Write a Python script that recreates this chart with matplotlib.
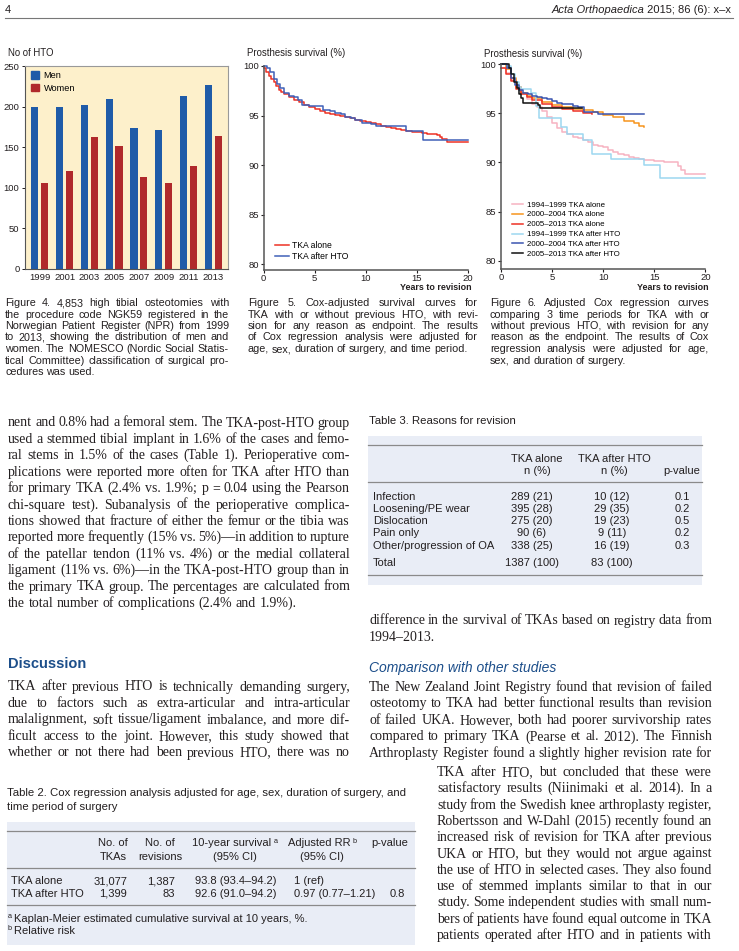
import numpy as np
import matplotlib
matplotlib.use("Agg")
import matplotlib.pyplot as plt
from matplotlib import font_manager
from matplotlib.patches import Patch, Rectangle

# ---- data: figure 4 (HTO per year) ----
years = ["1999", "2001", "2003", "2005", "2007", "2009", "2011", "2013"]
men = [199, 199, 202, 209, 174, 171, 213, 227]
women = [106, 121, 163, 151, 113, 106, 127, 164]

# ---- data: figure 5 (survival, TKA alone vs after HTO) ----
alone_t = [0, 0.25, 0.5, 0.75, 1, 1.25, 1.5, 1.75, 2, 2.5, 3, 3.5, 4, 4.5, 5, 5.5, 6, 6.5, 7, 7.5,
           8, 8.5, 9, 9.5, 10, 10.5, 11, 11.5, 12, 12.5, 13, 13.5, 14, 14.5, 15, 15.5, 16, 16.5,
           17, 17.3, 17.5, 18, 20]
alone_s = [99.8, 99.4, 99.0, 98.7, 98.35, 97.95, 97.6, 97.35, 97.15, 96.85, 96.6, 96.35, 96.1,
           95.9, 95.7, 95.5, 95.3, 95.2, 95.05, 94.95, 94.8, 94.7, 94.55, 94.45, 94.35, 94.25,
           94.1, 93.95, 93.85, 93.75, 93.65, 93.55, 93.4, 93.35, 93.3, 93.2, 93.15, 93.1, 93.05,
           92.8, 92.6, 92.3, 92.3]
hto_t = [0, 0.3, 0.6, 1, 1.3, 1.6, 2, 2.5, 3, 3.4, 3.8, 4.5, 5, 5.8, 6.5, 7, 7.6, 8, 8.6, 9.0,
         9.6, 10.5, 11, 12, 13, 14, 15.6, 20]
hto_s = [100, 99.8, 99.4, 98.7, 98.2, 97.8, 97.3, 97.0, 96.85, 96.6, 96.1, 96.0, 95.95, 95.6,
         95.45, 95.3, 95.15, 94.9, 94.7, 94.5, 94.2, 94.15, 93.95, 93.9, 93.9, 93.45, 92.5, 92.5]

# ---- data: figure 6 (survival by period) ----
p1_alone_t = [0, 0.5, 1, 1.5, 2, 2.5, 3, 3.5, 4, 4.5, 5, 5.5, 6, 6.5, 7, 7.5, 8, 8.5, 9, 9.5,
              10, 10.5, 11, 11.5, 12, 12.5, 13, 13.5, 14, 15, 16, 17, 17.3, 17.6, 18, 20]
p1_alone_s = [99.6, 99.1, 98.4, 97.7, 97.05, 96.5, 96.0, 95.6, 95.2, 94.6, 94.0, 93.5, 93.1,
              92.85, 92.6, 92.45, 92.3, 92.05, 91.8, 91.65, 91.55, 91.3, 91.1, 90.9, 90.75,
              90.6, 90.5, 90.4, 90.3, 90.2, 90.05, 90.0, 89.6, 89.2, 88.8, 88.8]
p2_alone_t = [0, 0.5, 1, 1.5, 2, 2.5, 3, 4, 5, 6, 7, 8, 9, 10, 11, 12, 13, 13.5, 14]
p2_alone_s = [100, 99.5, 98.6, 97.7, 97.1, 96.8, 96.55, 96.2, 95.85, 95.6, 95.45, 95.3, 95.1,
              94.85, 94.6, 94.25, 94.0, 93.7, 93.6]
p3_alone_t = [0, 0.5, 1, 1.5, 2, 2.5, 3, 4, 5, 6, 7, 8, 8.9]
p3_alone_s = [99.6, 99.0, 98.3, 97.5, 96.95, 96.65, 96.4, 96.0, 95.7, 95.45, 95.25, 95.0, 94.95]
p1_hto_t = [0, 0.6, 1.0, 1.4, 1.8, 2.0, 2.9, 3.4, 3.7, 5.9, 6.5, 8.05, 8.9, 10.8, 14.0, 15.6, 20]
p1_hto_s = [100, 99.8, 99.0, 98.2, 97.7, 97.45, 97.05, 95.8, 94.5, 93.6, 92.9, 92.3, 90.9,
            90.4, 89.75, 88.45, 88.45]
p2_hto_t = [0, 0.6, 1.0, 1.4, 1.8, 2.2, 2.6, 3.0, 3.5, 4.0, 4.5, 5.0, 5.5, 6.0, 7.0, 7.5, 8.1,
            9.5, 14]
p2_hto_s = [100, 99.6, 98.6, 97.9, 97.4, 97.1, 96.95, 96.8, 96.7, 96.55, 96.45, 96.3, 96.1,
            95.95, 95.75, 95.6, 95.1, 94.9, 94.9]
p3_hto_t = [0, 0.8, 1.0, 1.3, 1.6, 1.8, 2.0, 2.2, 3.6, 3.8, 7.9]
p3_hto_s = [100, 99.6, 99.0, 98.2, 97.6, 97.0, 96.6, 96.1, 95.85, 95.5, 95.5]
period_labels = ["1994\u20131999 TKA alone", "2000\u20132004 TKA alone", "2005\u20132013 TKA alone",
                 "1994\u20131999 TKA after HTO", "2000\u20132004 TKA after HTO",
                 "2005\u20132013 TKA after HTO"]

# ---- data: tables ----
t3_reasons = ["Infection", "Loosening/PE wear", "Dislocation", "Pain only", "Other/progression of OA"]
t3_alone = ["289 (21)", "395 (28)", "275 (20)", "90 (6)", "338 (25)"]
t3_hto = ["10 (12)", "29 (35)", "19 (23)", "9 (11)", "16 (19)"]
t3_p = ["0.1", "0.2", "0.5", "0.2", "0.3"]
t3_total = ["Total", "1387 (100)", "83 (100)"]

t2_groups = ["TKA alone", "TKA after HTO"]
t2_n = ["31,077", "1,399"]
t2_rev = ["1,387", "83"]
t2_surv = ["93.8 (93.4\u201394.2)", "92.6 (91.0\u201394.2)"]
t2_rr = ["1 (ref)", "0.97 (0.77\u20131.21)"]
t2_p = ["", "0.8"]

# ---- text ----
cap4 = ["Figure 4. 4,853 high tibial osteotomies with",
        "the procedure code NGK59 registered in the",
        "Norwegian Patient Register (NPR) from 1999",
        "to 2013, showing the distribution of men and",
        "women. The NOMESCO (Nordic Social Statis-",
        "tical Committee) classification of surgical pro-",
        "cedures was used."]
cap5 = ["Figure 5. Cox-adjusted survival curves for",
        "TKA with or without previous HTO, with revi-",
        "sion for any reason as endpoint. The results",
        "of Cox regression analysis were adjusted for",
        "age, sex, duration of surgery, and time period."]
cap6 = ["Figure 6. Adjusted Cox regression curves",
        "comparing 3 time periods for TKA with or",
        "without previous HTO, with revision for any",
        "reason as the endpoint. The results of Cox",
        "regression analysis were adjusted for age,",
        "sex, and duration of surgery."]
body1 = ["nent and 0.8% had a femoral stem. The TKA-post-HTO group",
         "used a stemmed tibial implant in 1.6% of the cases and femo-",
         "ral stems in 1.5% of the cases (Table 1). Perioperative com-",
         "plications were reported more often for TKA after HTO than",
         "for primary TKA (2.4% vs. 1.9%; p = 0.04 using the Pearson",
         "chi-square test). Subanalysis of the perioperative complica-",
         "tions showed that fracture of either the femur or the tibia was",
         "reported more frequently (15% vs. 5%)\u2014in addition to rupture",
         "of the patellar tendon (11% vs. 4%) or the medial collateral",
         "ligament (11% vs. 6%)\u2014in the TKA-post-HTO group than in",
         "the primary TKA group. The percentages are calculated from",
         "the total number of complications (2.4% and 1.9%)."]
disc = ["TKA after previous HTO is technically demanding surgery,",
        "due to factors such as extra-articular and intra-articular",
        "malalignment, soft tissue/ligament imbalance, and more dif-",
        "ficult access to the joint. However, this study showed that",
        "whether or not there had been previous HTO, there was no"]
right1 = ["difference in the survival of TKAs based on registry data from",
          "1994\u20132013."]
right2 = ["The New Zealand Joint Registry found that revision of failed",
          "osteotomy to TKA had better functional results than revision",
          "of failed UKA. However, both had poorer survivorship rates",
          "compared to primary TKA (Pearse et al. 2012). The Finnish",
          "Arthroplasty Register found a slightly higher revision rate for"]
right3 = ["TKA after HTO, but concluded that these were",
          "satisfactory results (Niinimaki et al. 2014). In a",
          "study from the Swedish knee arthroplasty register,",
          "Robertsson and W-Dahl (2015) recently found an",
          "increased risk of revision for TKA after previous",
          "UKA or HTO, but they would not argue against",
          "the use of HTO in selected cases. They also found",
          "use of stemmed implants similar to that in our",
          "study. Some independent studies with small num-",
          "bers of patients have found equal outcome in TKA",
          "patients operated after HTO and in patients with"]

# ---- fonts / colours ----
names = {f.name for f in font_manager.fontManager.ttflist}
SANS = "Liberation Sans"
SERIF = "Liberation Serif"
NARROW = "Liberation Sans Narrow" if "Liberation Sans Narrow" in names else SANS
BODY = 10.0
plt.rcParams["font.family"] = [SANS, "DejaVu Sans"]
TXT = "#231f20"
HEAD = "#1c4e8a"
TBL_BG = "#e9edf6"
TS = 8.0

W, H = 739, 951
fig = plt.figure(figsize=(W / 100, H / 100), dpi=100)
page = fig.add_axes([0, 0, 1, 1])
page.set_xlim(0, W)
page.set_ylim(H, 0)
page.axis("off")
R = fig.canvas.get_renderer()


def px_axes(l, t, r, b):
    return fig.add_axes([l / W, 1 - b / H, (r - l) / W, (b - t) / H])


def width_of(a):
    return a.get_window_extent(renderer=R).width


def fit_size(lines, family, width):
    # largest font size at which every full line fits with normal spacing
    best = 99.0
    for ln in lines:
        a = page.text(0, 0, ln, fontsize=10, family=family)
        best = min(best, 10 * width / width_of(a))
        a.remove()
    return best


def put_line(x0, x1, y, line, size, family, justify=True, **kw):
    words = line.split()
    arts = [page.text(x0, y, w, fontsize=size, family=family, va="baseline",
                      ha="left", color=TXT, **kw) for w in words]
    widths = [width_of(a) for a in arts]
    if justify and len(words) > 1:
        gap = (x1 - x0 - sum(widths)) / (len(words) - 1)
        while gap < 1.5 and size > 5:
            size -= 0.2
            for a in arts:
                a.set_fontsize(size)
            widths = [width_of(a) for a in arts]
            gap = (x1 - x0 - sum(widths)) / (len(words) - 1)
    else:
        gap = size * 0.25 * 100 / 72
    x = x0
    for a, w in zip(arts, widths):
        a.set_x(x)
        x += w + gap


def put_para(x0, x1, y0, step, lines, size, family, last_left=True):
    for i, ln in enumerate(lines):
        just = not (last_left and i == len(lines) - 1)
        put_line(x0, x1, y0 + i * step, ln, size, family, justify=just)


def tx(x, y, s, size=TS, ha="left", color=TXT, **kw):
    return page.text(x, y, s, fontsize=size, ha=ha, va="baseline", color=color, **kw)


def with_sup(xc, y, main, sup, size=TS):
    a = tx(xc, y, main, size, ha="center")
    w = width_of(a)
    tx(xc + w / 2 + 2, y - 3.5, sup, size * 0.65)


# ---- page header ----
hdr = tx(731, 13, " 2015; 86 (6): x\u2013x", 8, ha="right", family=NARROW)
tx(731 - width_of(hdr), 13, "Acta Orthopaedica", 8, ha="right", family=NARROW, style="italic")
tx(5, 13, "4", 8, family=NARROW)
page.plot([5, 733], [18, 18], color="#777777", lw=0.8)

# ---- figure 4: bars ----
ax1 = px_axes(25, 66, 228, 269)
x = np.arange(len(years))
ax1.bar(x - 0.2, men, width=0.29, color="#1f5ba8", zorder=2)
ax1.bar(x + 0.2, women, width=0.29, color="#b0292b", zorder=2)
ax1.set_xlim(-0.6, len(years) - 0.4)
ax1.set_ylim(0, 250)
ax1.set_yticks([0, 50, 100, 150, 200, 250])
ax1.set_xticks(x)
ax1.set_xticklabels(years)
ax1.set_facecolor("#fdf0cb")
ax1.tick_params(axis="y", labelsize=6.8, length=2.5, width=0.7, pad=1.5, colors=TXT)
ax1.tick_params(axis="x", labelsize=6.8, length=0, pad=3, colors=TXT)
for s in ax1.spines.values():
    s.set_color("#999999")
    s.set_linewidth(0.8)
ax1.spines["left"].set_color("#555555")
ax1.spines["bottom"].set_color("#555555")
ax1.legend(handles=[Patch(color="#1f5ba8", label="Men"), Patch(color="#b0292b", label="Women")],
           loc="upper left", bbox_to_anchor=(0.03, 0.975), frameon=False, fontsize=6.6,
           handlelength=0.85, handleheight=0.85, handletextpad=0.5, labelspacing=0.4,
           borderpad=0, borderaxespad=0)
tx(8, 56, "No of HTO", 6.9)


def surv_axes(l, t, r, b, lo):
    ax = px_axes(l, t, r, b)
    ax.set_xlim(0, 20)
    ax.set_ylim(lo, 100)
    ax.set_xticks([0, 5, 10, 15, 20])
    ax.set_yticks([80, 85, 90, 95, 100])
    for side in ["top", "right"]:
        ax.spines[side].set_visible(False)
    for side in ["left", "bottom"]:
        ax.spines[side].set_color("#555555")
        ax.spines[side].set_linewidth(1.1)
    ax.tick_params(labelsize=6.8, length=2.5, width=0.8, pad=1.0, colors=TXT)
    ax.set_facecolor("none")
    return ax


# ---- figure 5 ----
ax2 = surv_axes(263.5, 66, 467.7, 269.5, 79.45)
ax2.plot(alone_t, alone_s, drawstyle="steps-post", color="#ee3124", lw=1.1,
         label="TKA alone", clip_on=False)
ax2.plot(hto_t, hto_s, drawstyle="steps-post", color="#4060b8", lw=1.1,
         label="TKA after HTO", clip_on=False)
ax2.legend(loc="upper left", bbox_to_anchor=((275 - 263.5) / 204.2, 1 - (241 - 66) / 203.5),
           frameon=False, fontsize=6.2, handlelength=1.6, handletextpad=0.4,
           labelspacing=0.25, borderpad=0, borderaxespad=0)
tx(247, 56, "Prosthesis survival (%)", 6.9)
tx(472, 290, "Years to revision", 6.4, ha="right", fontweight="bold")

# ---- figure 6 ----
ax3 = surv_axes(501, 64.3, 705.3, 268.5, 79.2)
series = [(p1_alone_t, p1_alone_s, "#f7b3c1"), (p2_alone_t, p2_alone_s, "#f7941d"),
          (p3_alone_t, p3_alone_s, "#ee3124"), (p1_hto_t, p1_hto_s, "#9dd7f0"),
          (p2_hto_t, p2_hto_s, "#3a55b0"), (p3_hto_t, p3_hto_s, "#111111")]
for (tt, ss, c), lab in zip(series, period_labels):
    ax3.plot(tt, ss, drawstyle="steps-post", color=c, lw=1.1, label=lab, clip_on=False)
ax3.legend(loc="upper left", bbox_to_anchor=((512 - 501) / 204.3, 1 - (201 - 64.3) / 204.2),
           frameon=False, fontsize=5.7, handlelength=1.4, handletextpad=0.5,
           labelspacing=0.3, borderpad=0, borderaxespad=0)
tx(484, 57, "Prosthesis survival (%)", 6.9)
tx(709, 290, "Years to revision", 6.4, ha="right", fontweight="bold")

# ---- captions ----
cap_cols = [(5, 229, cap4), (248, 478, cap5), (490, 709, cap6)]
CAP_SIZE = 0.985 * min(fit_size(c[:-1], NARROW, x1 - x0) for x0, x1, c in cap_cols)
for x0, x1, c in cap_cols:
    put_para(x0, x1, 306, 11.5, c, CAP_SIZE, NARROW)

# ---- body text ----
put_para(8, 350, 426.5, 16.4, body1, BODY, SERIF)
tx(8, 668, "Discussion", 10.5, fontweight="bold", color=HEAD)
put_para(8, 350, 690.5, 16.5, disc, BODY, SERIF, last_left=False)
put_para(369, 712, 624.5, 16.4, right1, BODY, SERIF)
tx(369, 672, "Comparison with other studies", 10, style="italic", color=HEAD)
put_para(369, 712, 691, 16.45, right2, BODY, SERIF, last_left=False)
put_para(437, 712, 776, 16.3, right3, BODY, SERIF, last_left=False)

# ---- table 3 ----
tx(369, 424, "Table 3. Reasons for revision", 8.2)
page.add_patch(Rectangle((368, 436), 334, 149, color=TBL_BG, lw=0, zorder=0))
for yy in [445, 482, 575]:
    page.plot([368, 702], [yy, yy], color="#8a8a8a", lw=0.9)
for xc, l1, l2 in [(537, "TKA alone", "n (%)"), (614, "TKA after HTO", "n (%)"), (682, "", "p-value")]:
    tx(xc, 461.5, l1, ha="center")
    tx(xc, 474.5, l2, ha="center")
for i, (lab, a, h, p) in enumerate(zip(t3_reasons, t3_alone, t3_hto, t3_p)):
    yy = 499.5 + i * 12.3
    tx(373, yy, lab)
    tx(532, yy, a, ha="center")
    tx(612, yy, h, ha="center")
    tx(682, yy, p, ha="center")
tx(373, 566.5, t3_total[0])
tx(532, 566.5, t3_total[1], ha="center")
tx(612, 566.5, t3_total[2], ha="center")

# ---- table 2 ----
tx(7, 796.5, "Table 2. Cox regression analysis adjusted for age, sex, duration of surgery, and", 8.2)
tx(7, 809.5, "time period of surgery", 8.2)
page.add_patch(Rectangle((7, 822), 408, 123, color=TBL_BG, lw=0, zorder=0))
for yy in [831, 868, 905]:
    page.plot([7, 415], [yy, yy], color="#8a8a8a", lw=0.9)
for xc, l1, l2 in [(113, "No. of", "TKAs"), (160, "No. of", "revisions"), (390, "p-value", "")]:
    tx(xc, 846.5, l1, ha="center")
    tx(xc, 859.5, l2, ha="center")
with_sup(232, 846.5, "10-year survival", "a")
tx(235, 859.5, "(95% CI)", ha="center")
with_sup(319, 846.5, "Adjusted RR", "b")
tx(322, 859.5, "(95% CI)", ha="center")
for i in range(len(t2_groups)):
    yy = 884.5 + i * 12.5
    tx(11, yy, t2_groups[i])
    tx(127, yy, t2_n[i], ha="right")
    tx(175, yy, t2_rev[i], ha="right")
    tx(195, yy, t2_surv[i])
    tx(294, yy, t2_rr[i])
    tx(397, yy, t2_p[i], ha="center")
tx(8, 918.5, "a", TS * 0.65)
tx(14, 922, "Kaplan-Meier estimated cumulative survival at 10 years, %.")
tx(8, 930.5, "b", TS * 0.65)
tx(14, 934, "Relative risk")

fig.savefig("out.png", dpi=100, facecolor="white")
